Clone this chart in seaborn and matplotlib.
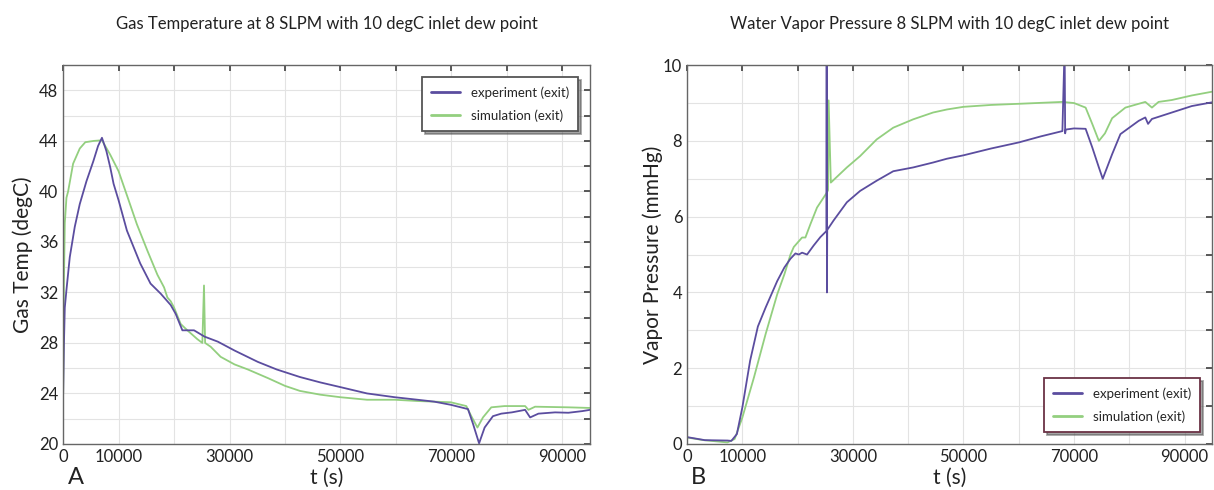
#!/usr/bin/env python3
"""
Gas temperature and water vapour pressure at the exit, experiment vs simulation.
"""

import pandas as pd
import matplotlib
matplotlib.use("Agg")
import matplotlib.pyplot as plt
import seaborn as sns

# --- Panel A: gas temperature (degC) ---
temp_exp_t = [0, 150, 300, 600, 1200, 2100, 3000, 4200, 5450, 6300, 7000, 7800,
              8500, 9100, 10000, 11500, 13900, 15760, 17600, 19400, 20300, 21500,
              23600, 25500, 27900, 30900, 35100, 38500, 42700, 46400, 50000, 54800,
              59800, 63900, 66900, 69900, 73000, 73900, 75000, 76000, 77500, 79000,
              80900, 83300, 84200, 85700, 88700, 91100, 93600, 95000]
temp_exp_v = [24.0, 28.0, 30.8, 32.2, 34.8, 37.2, 39.0, 40.8, 42.4, 43.6, 44.25, 43.2,
              41.9, 40.6, 39.3, 36.9, 34.3, 32.7, 31.9, 31.0, 30.3, 29.0,
              29.0, 28.5, 28.1, 27.4, 26.5, 25.9, 25.3, 24.87, 24.5, 24.0,
              23.7, 23.5, 23.35, 23.1, 22.76, 21.6, 20.05, 21.3, 22.2, 22.4,
              22.5, 22.7, 22.1, 22.4, 22.5, 22.47, 22.6, 22.7]

temp_sim_t = [0, 150, 300, 600, 900, 1800, 3000, 4000, 5500, 7000, 8500, 10000,
              11500, 13300, 15200, 17000, 18200, 18800, 19400, 20000, 21200, 22400,
              24200, 25100, 25400, 25600, 26600, 28400, 30900, 33300, 37000, 40000,
              42700, 46400, 50000, 54800, 59800, 63900, 69900, 72700, 73600, 74700,
              75700, 77200, 79600, 83300, 83900, 85100, 91100, 95000]
temp_sim_v = [24.0, 33.0, 37.5, 39.5, 40.0, 42.2, 43.4, 43.9, 44.0, 44.05, 42.9, 41.6,
              39.7, 37.4, 35.3, 33.4, 32.4, 31.6, 31.3, 30.8, 29.5, 29.0,
              28.3, 28.0, 32.55, 28.0, 27.7, 26.9, 26.3, 25.9, 25.2, 24.6,
              24.2, 23.9, 23.7, 23.5, 23.5, 23.4, 23.3, 23.0, 22.2, 21.3,
              22.1, 22.9, 23.0, 23.0, 22.7, 22.95, 22.9, 22.85]

# --- Panel B: vapour pressure (mmHg) ---
vp_exp_t = [0, 3200, 7300, 8000, 9000, 10000, 11400, 12800, 14200, 16300, 17600, 18700,
            19600, 20200, 20800, 21700, 22900, 24100, 25200, 25250, 25300, 25350,
            26500, 28900, 31300, 34300, 37300, 40900, 44500, 47000, 50000, 55000,
            60000, 64000, 67900, 68300, 68400, 68500, 70000, 72100, 73300, 74500,
            75200, 76900, 78400, 81700, 82900, 83400, 84100, 87700, 91300, 95000]
vp_exp_v = [0.18, 0.1, 0.09, 0.08, 0.26, 0.97, 2.2, 3.1, 3.6, 4.3, 4.66, 4.89,
            5.03, 5.0, 5.05, 5.0, 5.24, 5.46, 5.62, 10.5, 4.0, 5.65,
            5.9, 6.38, 6.68, 6.95, 7.2, 7.3, 7.43, 7.53, 7.62, 7.8,
            7.96, 8.12, 8.26, 10.5, 8.2, 8.3, 8.33, 8.32, 7.83, 7.3,
            7.0, 7.65, 8.18, 8.53, 8.62, 8.45, 8.58, 8.75, 8.92, 9.02]

vp_sim_t = [0, 3000, 7300, 8600, 10000, 12100, 14200, 16300, 17600, 18700, 19300, 20800,
            21400, 22300, 23500, 25300, 25500, 25600, 26000, 28900, 31300, 34300,
            37300, 40900, 44500, 47000, 50000, 55000, 60000, 67900, 70000, 72100,
            73300, 74500, 75600, 76900, 79300, 82900, 84100, 85300, 87700, 91300,
            95000]
vp_sim_v = [0.17, 0.1, 0.04, 0.13, 0.7, 1.76, 2.9, 3.95, 4.48, 5.0, 5.2, 5.45,
            5.45, 5.8, 6.24, 6.64, 6.7, 9.07, 6.9, 7.3, 7.6, 8.04,
            8.35, 8.57, 8.75, 8.83, 8.9, 8.95, 8.98, 9.03, 9.0, 8.88,
            8.45, 8.0, 8.2, 8.6, 8.88, 9.03, 8.88, 9.03, 9.08, 9.2,
            9.3]

series_names = ["experiment (exit)", "simulation (exit)"]
x_ticks = list(range(0, 100000, 10000))
x_labels = ["0", "10000", "", "30000", "", "50000", "", "70000", "", "90000"]

PURPLE = "#5b4d9f"
GREEN = "#93cf7f"


def make_frame(t_exp, v_exp, t_sim, v_sim):
    a = pd.DataFrame({"t": t_exp, "v": v_exp, "series": series_names[0]})
    b = pd.DataFrame({"t": t_sim, "v": v_sim, "series": series_names[1]})
    return pd.concat([a, b], ignore_index=True)


def style_axes(ax):
    ax.tick_params(direction="in", length=4, top=True, right=True,
                   colors="#444444", labelcolor="#222222", labelsize=12)
    for s in ax.spines.values():
        s.set_color("#666666")
        s.set_linewidth(1.0)
    ax.grid(True, color="#e3e3e3", linewidth=0.8)
    ax.set_xlim(0, 95000)
    ax.set_xticks(x_ticks)
    ax.set_xticklabels(x_labels)


sns.set_theme(style="whitegrid")
plt.rcParams["font.family"] = ["Lato", "DejaVu Sans"]

fig = plt.figure(figsize=(12.14, 4.9), dpi=100)
ax1 = fig.add_axes([0.052, 0.094, 0.434, 0.773])
ax2 = fig.add_axes([0.566, 0.094, 0.4325, 0.773])

palette = {series_names[0]: PURPLE, series_names[1]: GREEN}

# Panel A
df_a = make_frame(temp_exp_t, temp_exp_v, temp_sim_t, temp_sim_v)
sns.lineplot(data=df_a, x="t", y="v", hue="series", palette=palette,
             hue_order=series_names[::-1], sort=False, estimator=None,
             linewidth=1.3, ax=ax1, legend=False)
style_axes(ax1)
ax1.set_ylim(20, 50)
ax1.set_yticks(list(range(20, 50, 2)))
ax1.set_yticklabels([str(v) if v % 4 == 0 else "" for v in range(20, 50, 2)])
ax1.set_xlabel("t (s)", fontsize=15, color="#222222", labelpad=2)
ax1.set_ylabel("Gas Temp (degC)", fontsize=15, color="#222222", labelpad=4)
ax1.set_title("Gas Temperature at 8 SLPM with 10 degC inlet dew point",
              fontsize=12, color="#222222", pad=26)

# Panel B
df_b = make_frame(vp_exp_t, vp_exp_v, vp_sim_t, vp_sim_v)
sns.lineplot(data=df_b, x="t", y="v", hue="series", palette=palette,
             hue_order=series_names[::-1], sort=False, estimator=None,
             linewidth=1.3, ax=ax2, legend=False)
style_axes(ax2)
ax2.set_ylim(0, 10)
ax2.set_yticks(list(range(0, 11)))
ax2.set_yticklabels([str(v) if v % 2 == 0 else "" for v in range(0, 11)])
ax2.set_xlabel("t (s)", fontsize=15, color="#222222", labelpad=2)
ax2.set_ylabel("Vapor Pressure (mmHg)", fontsize=15, color="#222222", labelpad=0)
ax2.set_title("Water Vapor Pressure 8 SLPM with 10 degC inlet dew point",
              fontsize=12, color="#222222", pad=26)

# Legends
handles = [plt.Line2D([], [], color=PURPLE, linewidth=2.0),
           plt.Line2D([], [], color=GREEN, linewidth=2.0)]
for ax, loc, edge in [(ax1, "upper right", "#555555"), (ax2, "lower right", "#6b3345")]:
    leg = ax.legend(handles, series_names, loc=loc, fontsize=9.5, frameon=True,
                    fancybox=False, shadow=True, borderpad=0.7, labelspacing=0.8,
                    handlelength=2.2, borderaxespad=0.9)
    leg.get_frame().set_edgecolor(edge)
    leg.get_frame().set_linewidth(1.3)

# Panel letters
fig.text(0.056, 0.012, "A", fontsize=17, color="#222222")
fig.text(0.569, 0.012, "B", fontsize=17, color="#222222")

fig.savefig("out.png", dpi=100)
plt.close(fig)
